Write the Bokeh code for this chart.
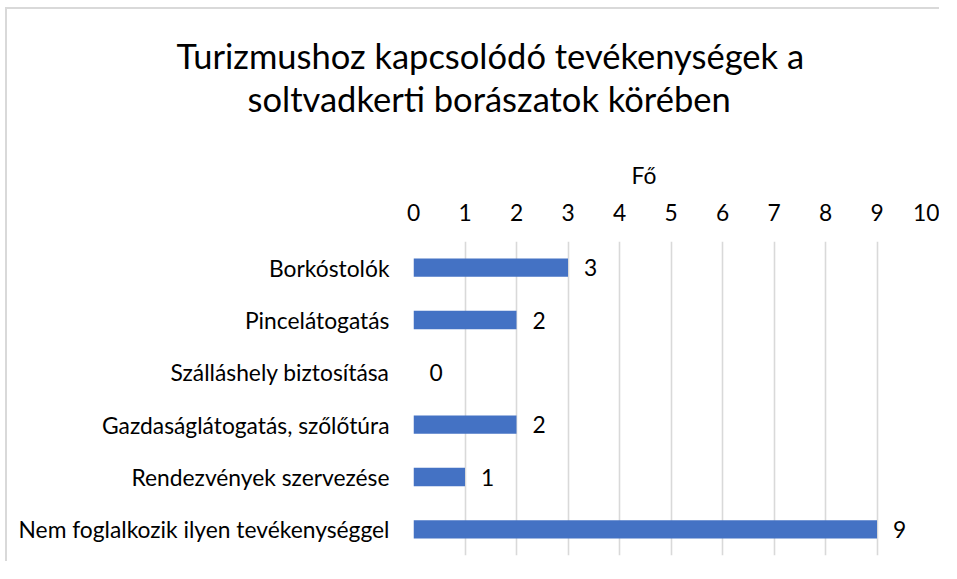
from bokeh.plotting import figure
from bokeh.models import Range1d, FixedTicker, Title
from bokeh.core.properties import value
from bokeh.embed import file_html
from bokeh.resources import INLINE

categories = [
    "Borkóstolók",
    "Pincelátogatás",
    "Szálláshely biztosítása",
    "Gazdaságlátogatás, szőlőtúra",
    "Rendezvények szervezése",
    "Nem foglalkozik ilyen tevékenységgel",
]
values = [3, 2, 0, 2, 1, 9]
x_ticks = list(range(0, 11))
title_lines = ["Turizmushoz kapcsolódó tevékenységek a", "soltvadkerti borászatok körében"]
x_label = "Fő"

FONT = "Lato"
BAR = "#4472C4"
GRID = "#d9d9d9"
TXT = "#000000"
FS = "22.8px"
TFS = "34.5px"

p = figure(
    width=934, height=554,
    y_range=list(reversed(categories)),
    x_range=Range1d(0, 10),
    x_axis_location="above",
    output_backend="svg", toolbar_location=None, title=None,
    min_border_left=406, min_border_right=13,
    min_border_top=232, min_border_bottom=8,
)
p.styles = {"margin-left": "5px", "margin-top": "7px",
            "border-top": "2px solid #d9d9d9", "border-left": "2px solid #d9d9d9"}
p.outline_line_color = None
p.background_fill_color = "white"
p.border_fill_color = "white"

p.hbar(y=categories, right=values, left=0, height=0.35, fill_color=BAR, line_color=None)
p.text(x=values, y=categories, text=[str(v) for v in values],
       x_offset=16, text_align="left", text_baseline="middle",
       text_font=value(FONT), text_font_size=FS, text_color=TXT)

xa = p.xaxis[0]
xa.ticker = FixedTicker(ticks=x_ticks)
xa.axis_line_color = None
xa.major_tick_line_color = None
xa.minor_tick_line_color = None
xa.major_label_text_font = FONT
xa.major_label_text_font_size = FS
xa.major_label_text_color = TXT
xa.major_label_standoff = 15

ya = p.yaxis[0]
ya.axis_line_color = None
ya.major_tick_line_color = None
ya.minor_tick_line_color = None
ya.major_label_text_font = FONT
ya.major_label_text_font_size = FS
ya.major_label_text_color = TXT
ya.major_label_standoff = 18

p.xgrid.grid_line_color = GRID
p.xgrid.grid_line_width = 1.6
p.xgrid.ticker = FixedTicker(ticks=x_ticks)
p.ygrid.grid_line_color = None

p.add_layout(Title(text=x_label, align="left", offset=218, standoff=24,
                   text_font=FONT, text_font_size=FS, text_font_style="normal",
                   text_color=TXT), "above")
p.add_layout(Title(text=" ", align="left", offset=0, standoff=25,
                   text_font=FONT, text_font_size="1px", text_font_style="normal",
                   text_color=TXT), "above")
p.add_layout(Title(text=title_lines[1], align="left", offset=-166, standoff=0,
                   text_font=FONT, text_font_size=TFS, text_font_style="normal",
                   text_color=TXT), "above")
p.add_layout(Title(text=title_lines[0], align="left", offset=-237, standoff=0,
                   text_font=FONT, text_font_size=TFS, text_font_style="normal",
                   text_color=TXT), "above")

open("out.html", "w").write(file_html(p, INLINE))
